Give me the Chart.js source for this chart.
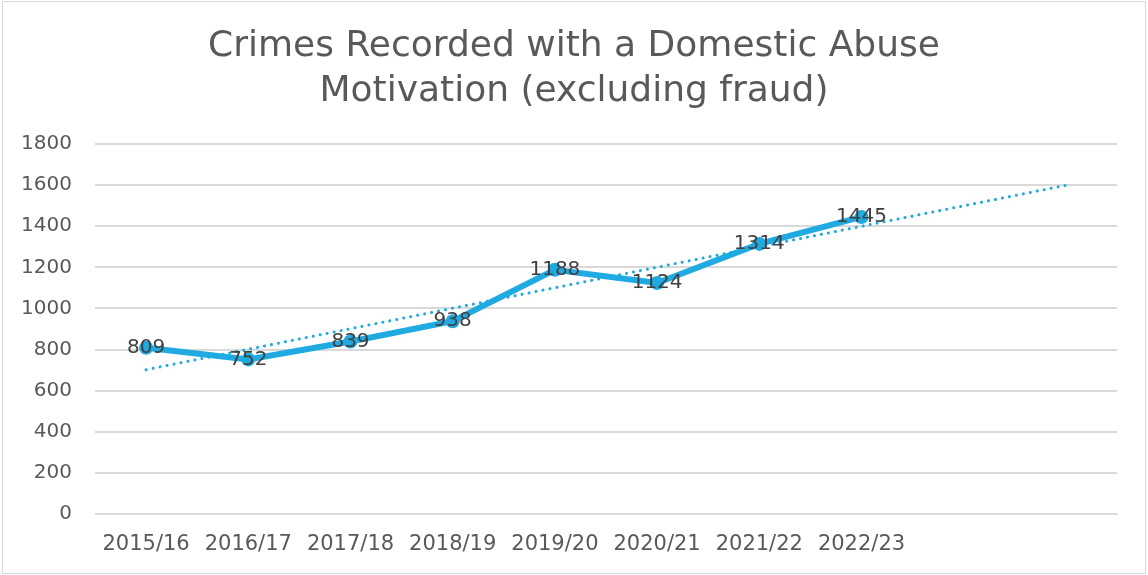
<!DOCTYPE html>
<html>
<head>
<meta charset="utf-8">
<script src="https://cdn.jsdelivr.net/npm/chart.js@4.4.0/dist/chart.umd.min.js"></script>
<style>
html,body{margin:0;padding:0;background:#fff;}
#wrap{width:1148px;height:575px;position:relative;}
</style>
</head>
<body>
<div id="wrap"><canvas id="c" width="1148" height="575"></canvas></div>
<script>
const categories = ["2015/16","2016/17","2017/18","2018/19","2019/20","2020/21","2021/22","2022/23","",""];
const crimes = [809,752,839,938,1188,1124,1314,1445,null,null];
const trendLine = [702,null,null,null,null,null,null,null,null,1599];
const yTicks = [0,200,400,600,800,1000,1200,1400,1600,1800];
const titleLines = ["Crimes Recorded with a Domestic Abuse","Motivation (excluding fraud)"];

const FONT = "'DejaVu Sans', sans-serif";
const BLUE = '#1FAAE1';

const frame = {
  id:'frame',
  afterLayout(chart){
    const t = chart.titleBlock;
    if(t){ t.left = 0; t.right = chart.width; t.width = chart.width; }
  },
  beforeDraw(chart){
    const ctx = chart.ctx;
    ctx.save();
    ctx.fillStyle='#fff';
    ctx.fillRect(0,0,chart.width,chart.height);
    ctx.strokeStyle='#d9d9d9';
    ctx.lineWidth=1;
    ctx.strokeRect(2.5,1.5,chart.width-5,chart.height-3);
    ctx.restore();
  }
};

const labels = {
  id:'labels',
  afterDatasetsDraw(chart){
    const ctx = chart.ctx;
    const meta = chart.getDatasetMeta(0);
    ctx.save();
    ctx.font = "20px " + FONT;
    ctx.fillStyle = '#404040';
    ctx.textAlign='center';
    ctx.textBaseline='middle';
    meta.data.forEach((pt,i)=>{
      const v = crimes[i];
      if(v==null) return;
      ctx.fillText(String(v), pt.x, pt.y);
    });
    ctx.restore();
  }
};

new Chart(document.getElementById('c'),{
  type:'line',
  data:{
    labels:categories,
    datasets:[
      {data:crimes,borderColor:BLUE,backgroundColor:BLUE,borderWidth:6,pointRadius:7,pointBorderWidth:0,pointBackgroundColor:BLUE,tension:0,spanGaps:false,order:1},
      {data:trendLine,borderColor:BLUE,borderWidth:3,borderDash:[0.1,7],borderCapStyle:'round',pointRadius:0,spanGaps:true,order:2}
    ]
  },
  options:{
    responsive:false,
    animation:false,
    layout:{padding:{left:0,right:31,top:0,bottom:0}},
    plugins:{
      legend:{display:false},
      tooltip:{enabled:false},
      title:{display:true,text:titleLines,color:'#595959',font:{family:FONT,size:36,weight:'normal',lineHeight:1.25},padding:{top:24,bottom:30}}
    },
    scales:{
      x:{
        offset:true,
        grid:{display:false,drawTicks:false,offset:true},
        border:{display:true,color:'#d9d9d9',width:1},
        ticks:{color:'#595959',font:{family:FONT,size:21},padding:18,maxRotation:0,autoSkip:false},
        afterFit(s){s.height=61;}
      },
      y:{
        min:0,max:1800,
        afterBuildTicks(s){s.ticks=yTicks.map(v=>({value:v}));},
        grid:{color:'#d9d9d9',lineWidth:2,drawTicks:false},
        border:{display:false},
        ticks:{color:'#595959',font:{family:FONT,size:20},padding:23,callback:(v)=>String(v)},
        afterFit(s){s.width=95;}
      }
    }
  },
  plugins:[frame,labels]
});
</script>
</body>
</html>
